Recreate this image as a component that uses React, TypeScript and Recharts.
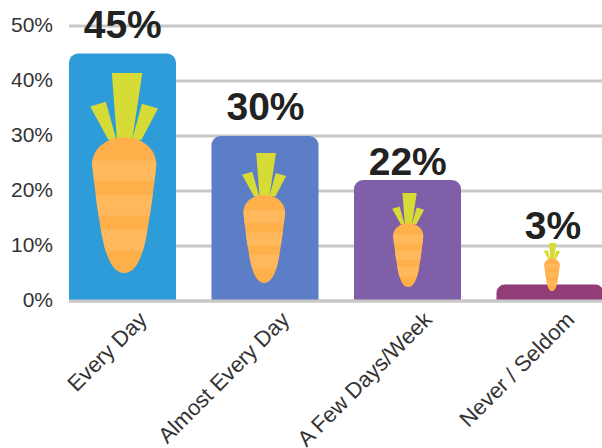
import React from 'react';
import { BarChart, Bar, XAxis, YAxis, CartesianGrid, LabelList, Rectangle } from 'recharts';

const categories = ['Every Day', 'Almost Every Day', 'A Few Days/Week', 'Never / Seldom'];
const shares = [45, 30, 22, 3];
const yTicks = [0, 10, 20, 30, 40, 50];

const barColors = ['#2E9CD8', '#5C7EC6', '#7F5FA8', '#923C78'];
const carrotHeights = [200, 130, 94, 48];
const carrotLifts = [28, 18, 14, 10];
const carrotNudges = [1.75, -0.75, 0.75, 2];
const labelLifts = [16, 16, 5, 46];
const labelNudges = [0.25, 0.5, 0.25, 3];

const rows = categories.map((name, i) => ({ name, share: shares[i] }));

const FONT = '"Liberation Sans", Arial, sans-serif';
const GRID = '#C8C8C8';
const LEAF = '#D6DB35';
const ORANGE_DARK = '#FFB04A';
const ORANGE_LIGHT = '#FFB85C';

// Carrot outline, drawn upward from the tip at (0, 0); 598 units tall with its leaves.
const BODY =
  'M -96 -323 C -96 -375 -50 -405 0 -405 C 50 -405 96 -375 96 -323 ' +
  'C 90 -270 78 -170 66 -110 C 55 -50 35 0 0 0 C -35 0 -55 -50 -66 -110 C -78 -170 -90 -270 -96 -323 Z';
const LEAVES = [
  '-37,-598 54,-598 24,-400 -22,-400',
  '-102,-498 -55,-512 -24,-400 -47,-398',
  '53,-506 101,-492 51,-398 24,-400',
];
const LIGHT_STRIPES = [
  [-336, -275],
  [-233, -171],
  [-130, -66],
];

function Carrot({ cx, baseY, height, id }: { cx: number; baseY: number; height: number; id: string }) {
  const k = height / 598;
  return (
    <g transform={`translate(${cx} ${baseY}) scale(${k})`}>
      <clipPath id={id}>
        <path d={BODY} />
      </clipPath>
      {LEAVES.map((points) => (
        <polygon key={points} points={points} fill={LEAF} />
      ))}
      <path d={BODY} fill={ORANGE_DARK} />
      {LIGHT_STRIPES.map(([top, bottom]) => (
        <rect
          key={top}
          x={-110}
          y={top}
          width={220}
          height={bottom - top}
          fill={ORANGE_LIGHT}
          clipPath={`url(#${id})`}
        />
      ))}
    </g>
  );
}

function CarrotBar(props: any) {
  const { x, y, width, height, index } = props;
  const baseline = y + height;
  return (
    <g>
      <Rectangle x={x} y={y} width={width} height={height} radius={[9, 9, 0, 0]} fill={barColors[index]} />
      <Carrot
        id={`carrot-${index}`}
        cx={x + width / 2 + carrotNudges[index]}
        baseY={baseline - carrotLifts[index]}
        height={carrotHeights[index]}
      />
    </g>
  );
}

// Percentage above each bar; the baseline is lifted per bar so the labels clear the carrots.
function ShareLabel(props: any) {
  const { x, y, width, value, index } = props;
  return (
    <text
      x={x + width / 2 + labelNudges[index]}
      y={y - labelLifts[index]}
      textAnchor="middle"
      fontFamily={FONT}
      fontSize={39}
      fontWeight={700}
      fill="#222222"
    >
      {`${value}%`}
    </text>
  );
}

// Category name running up to the right, ending just under its bar's centre.
function CategoryTick(props: any) {
  const { x, y, payload } = props;
  const px = x + 26;
  const py = y + 12;
  return (
    <text
      x={px}
      y={py}
      textAnchor="end"
      transform={`rotate(-45 ${px} ${py})`}
      fontFamily={FONT}
      fontSize={22}
      fill="#333333"
    >
      {payload.value}
    </text>
  );
}

export default function App() {
  return (
    <div style={{ position: 'absolute', left: 0, top: 0, width: 602, height: 448, overflow: 'hidden', background: '#fff' }}>
      <BarChart
        width={603}
        height={448}
        data={rows}
        margin={{ top: 26, right: 0, bottom: 0, left: 0 }}
        barCategoryGap={18}
      >
        <CartesianGrid vertical={false} stroke={GRID} strokeWidth={3} />
        <XAxis
          dataKey="name"
          height={147}
          interval={0}
          padding={{ left: -18, right: -18 }}
          stroke={GRID}
          strokeWidth={3}
          tickLine={false}
          tick={CategoryTick}
        />
        <YAxis
          width={69}
          domain={[0, 50]}
          ticks={yTicks}
          axisLine={false}
          tickLine={false}
          tickMargin={10}
          tickFormatter={(v: number) => `${v}%`}
          tick={{ fontFamily: FONT, fontSize: 21, fill: '#333333', dy: -1 }}
        />
        <Bar dataKey="share" isAnimationActive={false} shape={CarrotBar}>
          <LabelList dataKey="share" content={ShareLabel} />
        </Bar>
      </BarChart>
    </div>
  );
}
